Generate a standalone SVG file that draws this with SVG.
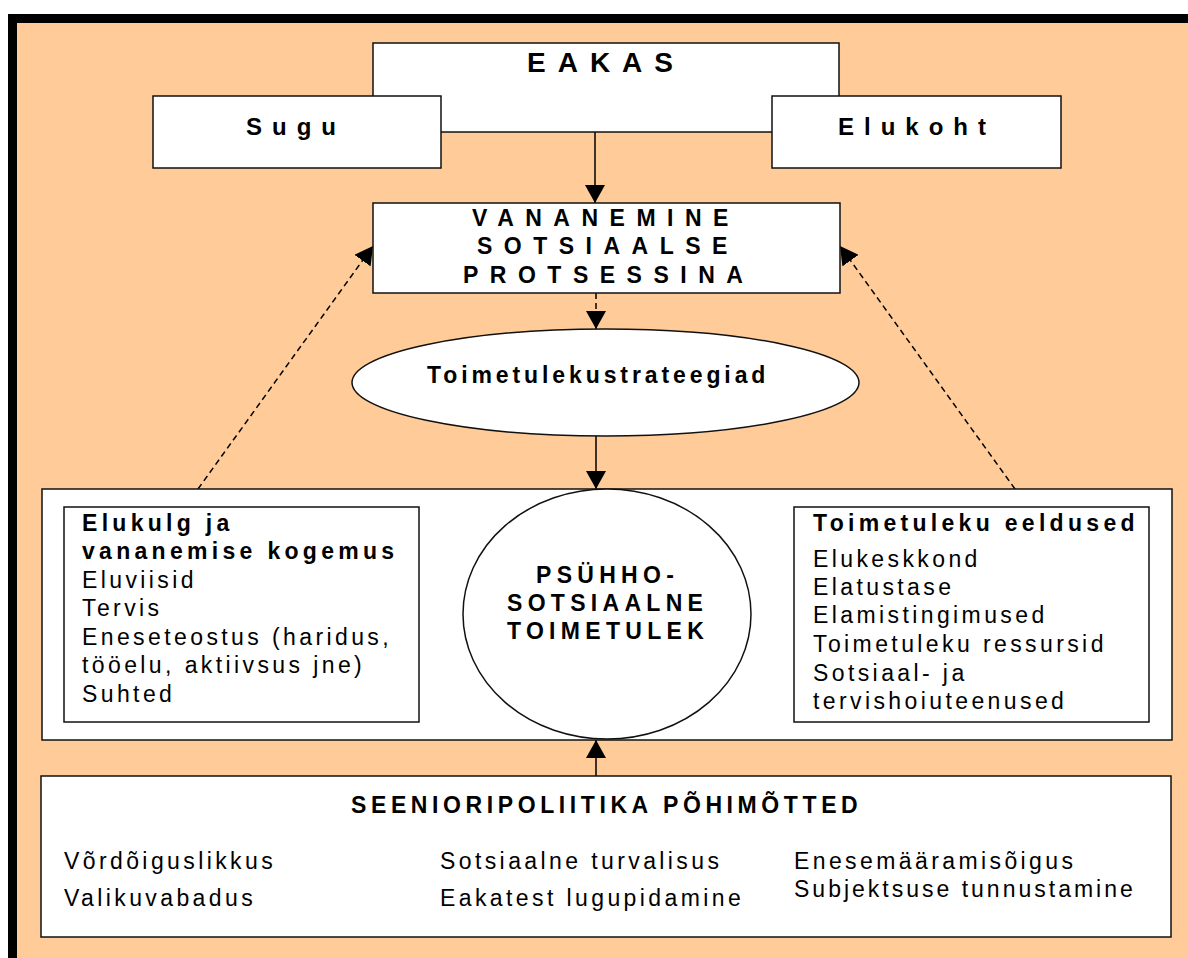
<svg xmlns="http://www.w3.org/2000/svg" width="1188" height="958" viewBox="0 0 1188 958">
<defs>
<style>
.box{fill:#fff;stroke:#111;stroke-width:1.5}
.ln{stroke:#000;stroke-width:1.5;fill:none}
.dash{stroke-dasharray:6 4}
text{font-family:"Liberation Sans",Arial,sans-serif;fill:#000}
.h{font-weight:bold}
.r{font-size:23px;letter-spacing:3.4px}
.b22{font-size:23px;font-weight:bold;letter-spacing:4.3px}
</style>
<marker id="ah" markerUnits="userSpaceOnUse" markerWidth="18" markerHeight="20" refX="18" refY="10" orient="auto" viewBox="0 0 18 20">
<path d="M0,0 L18,10 L0,20 z" fill="#000"/>
</marker>
</defs>
<rect x="0" y="0" width="1188" height="958" fill="#fff"/>
<rect x="8" y="14" width="1180" height="944" fill="#000"/>
<rect x="17" y="23" width="1171" height="935" fill="#FFCC99"/>

<g id="connectors">
<line class="ln" x1="595" y1="132" x2="595" y2="203" marker-end="url(#ah)"/>
<line class="ln dash" x1="596" y1="293" x2="596" y2="329" marker-end="url(#ah)"/>
<line class="ln" x1="596" y1="436" x2="596" y2="489" marker-end="url(#ah)"/>
<line class="ln dash" x1="198" y1="489" x2="373" y2="246" marker-end="url(#ah)"/>
<line class="ln dash" x1="1015" y1="489" x2="840" y2="246" marker-end="url(#ah)"/>
<line class="ln" x1="596" y1="776" x2="596" y2="740" marker-end="url(#ah)"/>
</g>

<g id="eakas">
<rect class="box" x="373" y="43" width="466" height="89"/>
<text class="h" x="527" y="72" font-size="28" letter-spacing="12">EAKAS</text>
</g>
<g id="sugu">
<rect class="box" x="153" y="96" width="288" height="72"/>
<text class="h" x="246" y="135" font-size="24" letter-spacing="10">Sugu</text>
</g>
<g id="elukoht">
<rect class="box" x="772" y="96" width="289" height="72"/>
<text class="h" x="838" y="135" font-size="24" letter-spacing="10">Elukoht</text>
</g>

<g id="vananemine">
<rect class="box" x="373" y="203" width="467" height="90"/>
<text class="h" font-size="23" letter-spacing="11.5">
<tspan x="472" y="226">VANANEMINE</tspan>
<tspan x="477" y="254">SOTSIAALSE</tspan>
<tspan x="463" y="283">PROTSESSINA</tspan>
</text>
</g>

<g id="strateegiad">
<ellipse class="box" cx="605.5" cy="382.5" rx="253.5" ry="53.5"/>
<text class="h" x="427" y="383" font-size="23" letter-spacing="3.9">Toimetulekustrateegiad</text>
</g>

<g id="toimetulek-konteiner">
<rect class="box" x="42" y="489" width="1130" height="251"/>
</g>

<g id="elukulg">
<rect class="box" x="64" y="507" width="355" height="215"/>
<text class="b22" x="82" y="531">Elukulg ja</text>
<text class="b22" x="82" y="559">vananemise kogemus</text>
<text class="r">
<tspan x="82" y="588">Eluviisid</tspan>
<tspan x="82" y="616">Tervis</tspan>
<tspan x="82" y="645">Eneseteostus (haridus,</tspan>
<tspan x="82" y="673">tööelu, aktiivsus jne)</tspan>
<tspan x="82" y="702">Suhted</tspan>
</text>
</g>

<g id="eeldused">
<rect class="box" x="794" y="507" width="355" height="215"/>
<text class="b22" x="813" y="531">Toimetuleku eeldused</text>
<text class="r">
<tspan x="813" y="567">Elukeskkond</tspan>
<tspan x="813" y="595">Elatustase</tspan>
<tspan x="813" y="623">Elamistingimused</tspan>
<tspan x="813" y="652">Toimetuleku ressursid</tspan>
<tspan x="813" y="681">Sotsiaal- ja</tspan>
<tspan x="813" y="709">tervishoiuteenused</tspan>
</text>
</g>

<g id="psyhhosotsiaalne">
<ellipse class="box" cx="607" cy="614" rx="144" ry="125"/>
<text class="h" font-size="23" letter-spacing="5.3">
<tspan x="536" y="583">PSÜHHO-</tspan>
<tspan x="507" y="611">SOTSIAALNE</tspan>
<tspan x="507" y="639">TOIMETULEK</tspan>
</text>
</g>

<g id="seenioripoliitika">
<rect class="box" x="41" y="776" width="1130" height="161"/>
<text class="h" x="351" y="813" font-size="23" letter-spacing="4.6">SEENIORIPOLIITIKA PÕHIMÕTTED</text>
<text class="r">
<tspan x="64" y="869">Võrdõiguslikkus</tspan>
<tspan x="64" y="906">Valikuvabadus</tspan>
<tspan x="440" y="869">Sotsiaalne turvalisus</tspan>
<tspan x="440" y="906">Eakatest lugupidamine</tspan>
<tspan x="794" y="869">Enesemääramisõigus</tspan>
<tspan x="794" y="897" letter-spacing="3">Subjektsuse tunnustamine</tspan>
</text>
</g>
</svg>
